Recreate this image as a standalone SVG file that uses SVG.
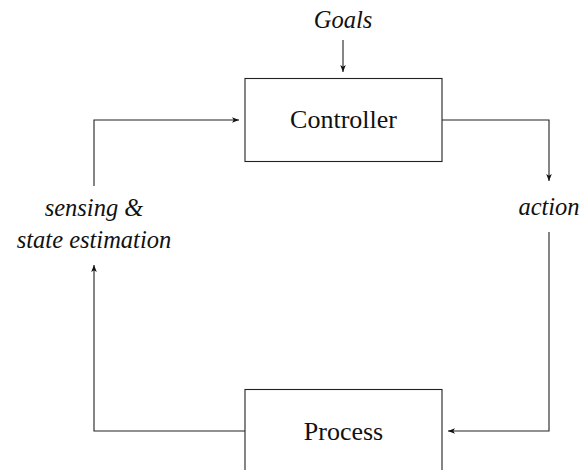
<svg xmlns="http://www.w3.org/2000/svg" width="582" height="470" viewBox="0 0 582 470">
<style>
.box{fill:#fff;stroke:#222;stroke-width:1.1}
.ln{fill:none;stroke:#222;stroke-width:1.1}
.up{font-family:"Liberation Serif",serif;font-size:26px;fill:#111;text-anchor:middle}
.it{font-family:"Liberation Serif",serif;font-style:italic;font-size:24.5px;fill:#111;text-anchor:middle}
</style>
<defs>
<marker id="ah" viewBox="0 0 10 10" refX="10" refY="5" markerWidth="7" markerHeight="7" markerUnits="userSpaceOnUse" orient="auto">
<path d="M0,1 L10,5 L0,9 L2.5,5 Z" fill="#111"/>
</marker>
</defs>
<g id="connectors">
<line class="ln" x1="343" y1="40" x2="343" y2="72" marker-end="url(#ah)"/>
<polyline class="ln" points="442,120 549,120 549,181" marker-end="url(#ah)"/>
<polyline class="ln" points="549,232 549,431 448,431" marker-end="url(#ah)"/>
<polyline class="ln" points="245,431 94,431 94,265" marker-end="url(#ah)"/>
<polyline class="ln" points="94,186 94,120 239,120" marker-end="url(#ah)"/>
</g>
<g id="goals"><text class="it" x="343" y="28">Goals</text></g>
<g id="controller">
<rect class="box" x="245" y="78.5" width="197" height="83"/>
<text class="up" x="343.5" y="128">Controller</text>
</g>
<g id="action"><text class="it" x="549" y="215">action</text></g>
<g id="sensing">
<text class="it" x="94" y="216">sensing &amp;</text>
<text class="it" x="94" y="248">state estimation</text>
</g>
<g id="process">
<rect class="box" x="245" y="389.5" width="197" height="90"/>
<text class="up" x="343.5" y="440">Process</text>
</g>
</svg>
